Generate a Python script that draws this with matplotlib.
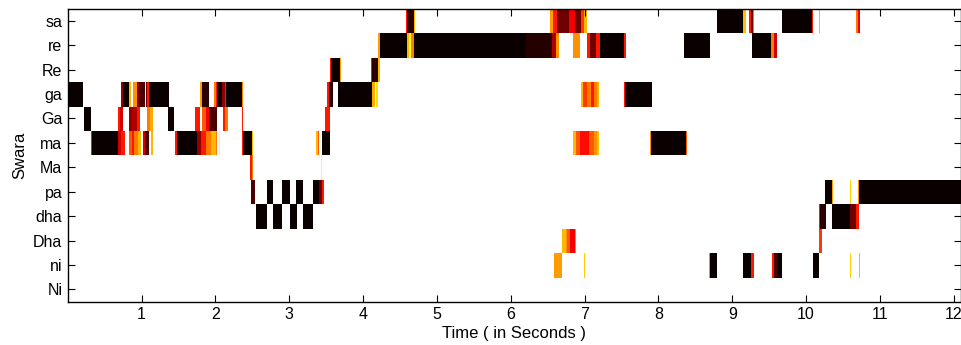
import numpy as np
import matplotlib
matplotlib.use("Agg")
import matplotlib.pyplot as plt

plt.rcParams['font.family'] = ['Liberation Sans', 'DejaVu Sans']

swaras = ['sa', 're', 'Re', 'ga', 'Ga', 'ma', 'Ma', 'pa', 'dha', 'Dha', 'ni', 'Ni']
t_end = 12.1
dt = 0.005

# (start s, end s, strength 0..1), one list per swara
sa = [(4.57, 4.59, 0.6), (4.59, 4.68, 0.95), (4.68, 4.70, 0.36),
      (6.53, 6.57, 0.4), (6.57, 6.62, 0.6), (6.62, 6.78, 0.85), (6.78, 6.86, 0.65),
      (6.86, 6.94, 0.85), (6.94, 6.99, 0.55), (6.99, 7.03, 0.36),
      (8.79, 9.14, 1.0), (9.14, 9.17, 0.35), (9.22, 9.24, 0.6), (9.24, 9.27, 0.85),
      (9.27, 9.29, 0.45), (9.66, 10.07, 1.0), (10.07, 10.08, 0.6), (10.16, 10.18, 0.36),
      (10.66, 10.69, 0.45), (10.69, 10.72, 0.65)]
re = [(4.19, 4.22, 0.4), (4.22, 4.59, 1.0), (4.59, 4.62, 0.36), (4.62, 4.64, 0.22),
      (4.64, 4.68, 0.45), (4.68, 6.2, 1.0), (6.2, 6.55, 0.96), (6.55, 6.6, 0.75),
      (6.6, 6.65, 0.42), (6.84, 6.93, 0.42), (7.03, 7.07, 0.6), (7.07, 7.14, 0.85),
      (7.14, 7.2, 0.6), (7.2, 7.53, 1.0), (7.53, 7.55, 0.6),
      (8.34, 8.69, 1.0), (9.26, 9.52, 1.0), (9.52, 9.55, 0.45), (9.55, 9.6, 0.7)]
Re = [(3.55, 3.56, 0.6), (3.56, 3.68, 1.0), (3.68, 3.70, 0.4),
      (4.10, 4.12, 0.6), (4.12, 4.19, 0.95), (4.19, 4.22, 0.36)]
ga = [(0.0, 0.20, 1.0), (0.72, 0.75, 0.8), (0.75, 0.83, 1.0), (0.83, 0.85, 0.36),
      (0.88, 0.93, 0.42), (0.93, 0.96, 0.8), (0.96, 1.04, 0.9), (1.05, 1.07, 0.85),
      (1.07, 1.09, 0.6), (1.09, 1.37, 1.0), (1.79, 1.81, 0.4), (1.81, 1.91, 0.95),
      (1.98, 2.0, 0.45), (2.0, 2.02, 0.6), (2.02, 2.09, 1.0), (2.09, 2.12, 0.8),
      (2.12, 2.14, 0.6), (2.14, 2.35, 1.0), (2.35, 2.37, 0.45),
      (3.51, 3.53, 0.6), (3.53, 3.58, 0.95), (3.66, 4.12, 1.0), (4.12, 4.15, 0.38),
      (4.17, 4.19, 0.3), (6.94, 6.97, 0.36), (6.97, 7.02, 0.55), (7.02, 7.08, 0.45),
      (7.08, 7.12, 0.6), (7.12, 7.16, 0.45), (7.16, 7.19, 0.36),
      (7.52, 7.54, 0.6), (7.54, 7.9, 1.0), (7.9, 7.91, 0.45)]
Ga = [(0.0, 0.02, 0.36), (0.21, 0.31, 1.0), (0.67, 0.70, 0.6), (0.70, 0.75, 0.7),
      (0.83, 0.86, 0.8), (0.86, 0.93, 0.75), (0.93, 0.98, 0.6), (1.07, 1.11, 0.45),
      (1.11, 1.15, 0.38), (1.36, 1.44, 1.0), (1.72, 1.78, 0.6), (1.82, 1.87, 0.5),
      (1.87, 1.91, 0.65), (1.91, 2.02, 0.9), (2.1, 2.13, 0.6), (2.13, 2.17, 0.45),
      (2.35, 2.37, 0.6), (3.48, 3.54, 0.6)]
ma = [(0.31, 0.33, 0.6), (0.33, 0.67, 1.0), (0.67, 0.72, 0.7), (0.72, 0.77, 0.6),
      (0.82, 0.86, 0.5), (0.86, 0.9, 0.6), (0.9, 0.95, 0.45), (0.95, 0.99, 0.36),
      (1.02, 1.04, 0.7), (1.04, 1.09, 0.9), (1.12, 1.15, 0.36), (1.45, 1.47, 0.6),
      (1.47, 1.74, 1.0), (1.74, 1.80, 0.8), (1.80, 1.87, 0.6), (1.87, 1.93, 0.45),
      (1.93, 2.0, 0.36), (2.0, 2.02, 0.45), (2.05, 2.06, 0.22),
      (2.35, 2.37, 0.6), (2.37, 2.49, 1.0), (2.49, 2.5, 0.36),
      (3.36, 3.38, 0.36), (3.38, 3.40, 0.5), (3.44, 3.54, 1.0),
      (6.84, 6.87, 0.36), (6.87, 6.93, 0.5), (6.93, 7.05, 0.62), (7.05, 7.12, 0.5),
      (7.12, 7.16, 0.42), (7.16, 7.19, 0.35), (7.88, 7.89, 0.42), (7.89, 8.37, 1.0),
      (8.37, 8.38, 0.5)]
Ma = [(2.47, 2.49, 0.6), (2.49, 2.51, 0.45), (3.42, 3.44, 0.22)]
pa = [(2.48, 2.53, 0.9), (2.7, 2.78, 1.0), (2.9, 3.0, 1.0), (3.09, 3.18, 1.0),
      (3.31, 3.40, 1.0), (3.40, 3.44, 0.85), (3.44, 3.46, 0.6),
      (10.25, 10.34, 1.0), (10.34, 10.35, 0.4), (10.58, 10.6, 0.32),
      (10.69, 10.71, 0.42), (10.71, 12.1, 1.0)]
dha = [(2.54, 2.7, 1.0), (2.78, 2.9, 1.0), (3.0, 3.1, 1.0), (3.18, 3.31, 1.0),
       (10.16, 10.18, 0.6), (10.18, 10.26, 0.95), (10.34, 10.58, 1.0),
       (10.58, 10.67, 0.85), (10.67, 10.7, 0.6)]
Dha = [(6.69, 6.74, 0.36), (6.74, 6.76, 0.42), (6.76, 6.8, 0.5), (6.8, 6.86, 0.65),
       (6.86, 6.88, 0.42), (10.16, 10.2, 0.55)]
ni = [(6.58, 6.60, 0.4), (6.6, 6.69, 0.4), (6.98, 7.0, 0.33),
      (8.67, 8.69, 0.42), (8.69, 8.79, 1.0), (9.13, 9.24, 1.0), (9.24, 9.28, 0.6),
      (9.53, 9.56, 0.6), (9.56, 9.6, 0.9), (9.6, 9.67, 1.0),
      (10.08, 10.16, 1.0), (10.16, 10.17, 0.42), (10.58, 10.6, 0.32), (10.70, 10.72, 0.36)]
Ni = []

rows = [sa, re, Re, ga, Ga, ma, Ma, pa, dha, Dha, ni, Ni]

n_cols = int(round(t_end / dt))
M = np.zeros((len(rows), n_cols))
for i, segs in enumerate(rows):
    for t0, t1, v in segs:
        c0 = int(round(t0 / dt))
        c1 = max(int(round(t1 / dt)), c0 + 1)
        M[i, c0:c1] = np.maximum(M[i, c0:c1], v)

fig = plt.figure(figsize=(9.62, 3.45), dpi=100)
ax = fig.add_axes([0.0705, 0.126, 0.9285, 0.849])
ax.imshow(M, cmap='hot_r', vmin=0, vmax=1, aspect='auto', interpolation='nearest',
          extent=(0, t_end, len(rows) - 0.5, -0.5))

ax.set_xlim(0, t_end)
ax.set_ylim(len(rows) - 0.5, -0.5)
ax.set_xticks(range(1, 13))
ax.set_yticks(range(len(rows)))
ax.set_yticklabels(swaras)
ax.tick_params(direction='in', top=True, right=True, length=5, width=0.8,
               labelsize=11.5, pad=4)
for s in ax.spines.values():
    s.set_linewidth(1.0)
ax.set_xlabel('Time ( in Seconds )', fontsize=12, labelpad=3)
ax.set_ylabel('Swara', fontsize=12, labelpad=4)

fig.savefig('out.png', dpi=100)
